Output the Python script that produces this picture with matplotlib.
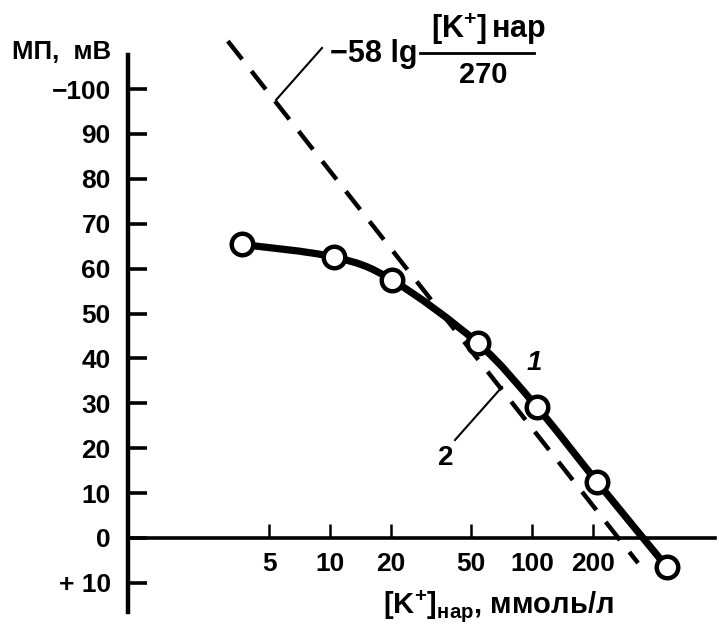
import numpy as np
import matplotlib
matplotlib.use("Agg")
import matplotlib.pyplot as plt
from matplotlib.path import Path
from matplotlib.patches import PathPatch
from matplotlib.lines import Line2D

plt.rcParams['font.family'] = ['Liberation Sans', 'DejaVu Sans']
plt.rcParams['font.weight'] = 'bold'
plt.rcParams['mathtext.fontset'] = 'custom'
plt.rcParams['mathtext.rm'] = 'Liberation Sans:bold'
plt.rcParams['mathtext.bf'] = 'Liberation Sans:bold'
plt.rcParams['mathtext.it'] = 'Liberation Sans:bold:italic'

# ---- data ----
k_out = [3.64, 10.4, 20.2, 53.9, 105.6, 210.0, 466.0]        # [K+]нар, ммоль/л
mp = [-65.4, -62.6, -57.5, -43.4, -29.2, -12.5, 6.5]           # МП, мВ (curve 1)
nernst_k = [3.11, 335.0]                                       # line 2 endpoints
nernst_mp = [-110.7, 5.6]
x_ticks = [5, 10, 20, 50, 100, 200]
x_ticklabels = ['5', '10', '20', '50', '100', '200']
y_ticks = [-100, -90, -80, -70, -60, -50, -40, -30, -20, -10, 0, 10]
y_ticklabels = ['\u2212100', '90', '80', '70', '60', '50', '40', '30', '20', '10', '0', '+ 10']

W, H = 719, 632
fig = plt.figure(figsize=(W / 100, H / 100), dpi=100)
L, R, T, B = 127.5, 715, 55, 612
ax = fig.add_axes([L / W, 1 - B / H, (R - L) / W, (B - T) / H])
ax.set_xscale('log')
ax.set_xlim(0.99, 806)
ax.set_ylim(16.5, -107.6)

def px(x, y):
    return (x / W, 1 - y / H)

# dashed theoretical line
ax.plot(nernst_k, nernst_mp, color='black', lw=3.2, dashes=(5.2, 3.4),
        dash_capstyle='butt', zorder=3, clip_on=False)

# smooth curve through measured points (Catmull-Rom in log-x space)
lx = np.log10(k_out)
yy = np.array(mp)
verts = [(k_out[0], mp[0])]
codes = [Path.MOVETO]
n = len(lx)
for i in range(n - 1):
    p0 = (lx[max(i - 1, 0)], yy[max(i - 1, 0)])
    p1 = (lx[i], yy[i])
    p2 = (lx[i + 1], yy[i + 1])
    p3 = (lx[min(i + 2, n - 1)], yy[min(i + 2, n - 1)])
    c1 = (p1[0] + (p2[0] - p0[0]) / 6, p1[1] + (p2[1] - p0[1]) / 6)
    c2 = (p2[0] - (p3[0] - p1[0]) / 6, p2[1] - (p3[1] - p1[1]) / 6)
    for c in (c1, c2, p2):
        verts.append((10 ** c[0], c[1]))
        codes.append(Path.CURVE4)
ax.add_patch(PathPatch(Path(verts, codes), facecolor='none', edgecolor='black',
                       lw=5.2, zorder=4, capstyle='round', clip_on=False))
ax.plot(k_out, mp, linestyle='none', marker='o', ms=15.5, mfc='white',
        mec='black', mew=3.2, zorder=5, clip_on=False)

# axes
for s in ('top', 'right'):
    ax.spines[s].set_visible(False)
ax.spines['left'].set_linewidth(3.2)
ax.spines['bottom'].set_linewidth(2.6)
ax.spines['bottom'].set_position(('data', 0))
ax.set_xticks(x_ticks)
ax.set_xticklabels(x_ticklabels)
ax.xaxis.set_minor_locator(matplotlib.ticker.NullLocator())
ax.set_yticks(y_ticks)
ax.set_yticklabels(y_ticklabels)
ax.tick_params(axis='x', direction='in', length=10, width=1.8, pad=10,
               labelsize=19)
ax.tick_params(axis='y', direction='in', length=14, width=2.6, pad=12,
               labelsize=19)
for lab in ax.get_xticklabels() + ax.get_yticklabels():
    lab.set_fontweight('bold')
ax.patch.set_alpha(0)

# texts
fig.text(*px(12, 52), 'МП,  мВ', fontsize=18.5, va='center', ha='left',
         weight='bold')
fig.text(*px(383, 606), r'$[\mathbf{K}^{\mathbf{+}}]_{\mathbf{нар}}$, ммоль/л',
         fontsize=21, va='center', ha='left', weight='bold')
fig.text(*px(534, 363), '1', fontsize=20, style='italic', ha='center',
         va='center', weight='bold')
fig.text(*px(446, 458), '2', fontsize=20, ha='center', va='center',
         weight='bold')

# leader lines
fig.add_artist(Line2D([455 / W, 502 / W], [1 - 440 / H, 1 - 387 / H],
                      color='black', lw=1.5))
fig.add_artist(Line2D([276 / W, 322 / W], [1 - 100 / H, 1 - 48 / H],
                      color='black', lw=1.5))

# formula
fig.text(*px(330, 54), '\u221258 lg', fontsize=22, ha='left', va='center',
         weight='bold')
fig.add_artist(Line2D([420 / W, 534 / W], [1 - 53 / H, 1 - 53 / H],
                      color='black', lw=2.0))
fig.text(*px(431, 29), r'$[\mathbf{K}^{\mathbf{+}}]\,\mathbf{нар}$', fontsize=22,
         ha='left', va='center', weight='bold')
fig.text(*px(483, 75), '270', fontsize=21, ha='center', va='center',
         weight='bold')

fig.savefig('out.png', dpi=100)
